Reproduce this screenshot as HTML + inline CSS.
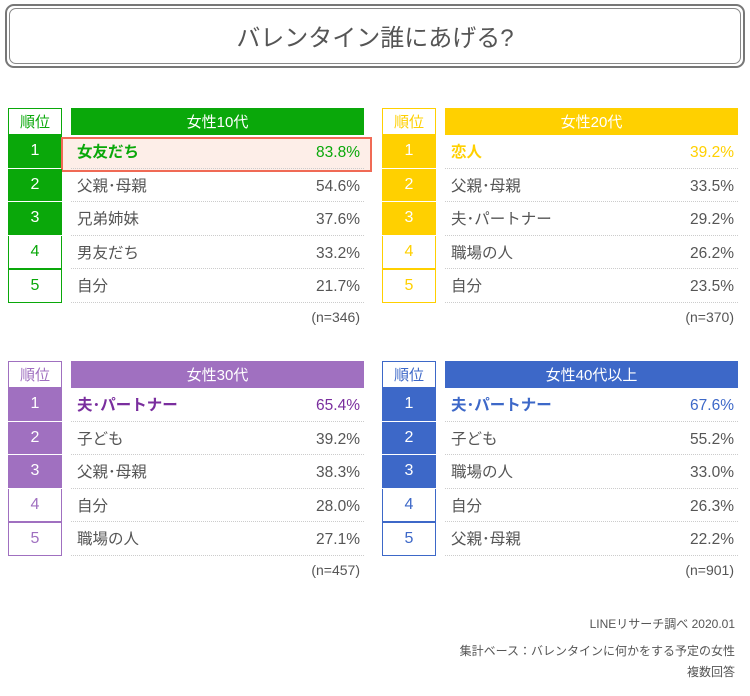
<!DOCTYPE html>
<html><head><meta charset="utf-8"><style>
body{margin:0;width:750px;height:696px;background:#fff;position:relative;font-family:"Liberation Sans","Noto Sans CJK JP",sans-serif;overflow:hidden}
.a{position:absolute;box-sizing:border-box}
.title{left:5px;top:4px;width:740px;height:64px;border:2px solid #777;border-radius:9px}
.title:after{content:"";position:absolute;left:2px;top:2px;right:2px;bottom:2px;border:1.5px solid #888;border-radius:7px}
.tt{left:0;top:18px;width:750px;text-align:center;font-size:24px;color:#555}
.rk{width:54px;height:33.6px;display:flex;align-items:center;justify-content:center;font-size:16px}
.hd{height:27px;display:flex;align-items:center;justify-content:center;color:#fff;font-size:15px}
.row{height:33.6px;line-height:32px;padding:3px 4px 0 6px;font-size:15.5px;color:#555;border-bottom:1.5px dotted #ccc}
.row span{float:left;line-height:30px}
.row b{float:right;font-weight:normal;line-height:30px}
.n{font-size:14px;color:#555;text-align:right}
.ft{right:15px;font-size:12px;color:#555;text-align:right}
</style></head><body>
<div class="a title"></div>
<div class="a tt">バレンタイン誰にあげる?</div>
<div id="c"></div>
<div class="a ft" style="top:615px">LINEリサーチ調べ 2020.01</div>
<div class="a ft" style="top:642px">集計ベース：バレンタインに何かをする予定の女性</div>
<div class="a ft" style="top:663px">複数回答</div>
<script>
const P=[
{x:8,mx:71,y:108,c:"#0aa80a",t:"女性10代",n:"(n=346)",r:[["女友だち","83.8%"],["父親･母親","54.6%"],["兄弟姉妹","37.6%"],["男友だち","33.2%"],["自分","21.7%"]],hl:1},
{x:382,mx:445,y:108,c:"#ffd000",t:"女性20代",n:"(n=370)",r:[["恋人","39.2%"],["父親･母親","33.5%"],["夫･パートナー","29.2%"],["職場の人","26.2%"],["自分","23.5%"]]},
{x:8,mx:71,y:361,c:"#a070c0",t:"女性30代",n:"(n=457)",tc:"#7a2e9e",r:[["夫･パートナー","65.4%"],["子ども","39.2%"],["父親･母親","38.3%"],["自分","28.0%"],["職場の人","27.1%"]]},
{x:382,mx:445,y:361,c:"#3d68c8",t:"女性40代以上",n:"(n=901)",r:[["夫･パートナー","67.6%"],["子ども","55.2%"],["職場の人","33.0%"],["自分","26.3%"],["父親･母親","22.2%"]]}];
let h="";
for(const p of P){
 h+=`<div class="a rk" style="left:${p.x}px;top:${p.y}px;height:27px;border:1.5px solid ${p.c};color:${p.c};font-size:15px">順位</div>`;
 h+=`<div class="a hd" style="left:${p.mx}px;top:${p.y}px;width:293px;background:${p.c}">${p.t}</div>`;
 for(let i=0;i<5;i++){
  const y=p.y+27+i*33.6;
  const f=i<3;
  h+=`<div class="a rk" style="left:${p.x}px;top:${y}px;${f?`background:${p.c};color:#fff;border-bottom:1.5px solid #fff;`:`border:1.5px solid ${p.c};border-top:${i==3?0:1.5}px solid ${p.c};color:${p.c};`}">${i+1}</div>`;
  if(i==0&&p.hl) h+=`<div class="a" style="left:61px;top:${y+2}px;width:311px;height:35px;border:2px solid #f06a55;background:#fdeee8"></div>`;
  const col=i==0?(p.tc||p.c):"#555";
  h+=`<div class="a row" style="left:${p.mx}px;top:${y}px;width:293px;color:${col};"><span${i==0?' style="font-weight:bold"':''}>${p.r[i][0]}</span><b>${p.r[i][1]}</b></div>`;
 }
 h+=`<div class="a n" style="left:${p.mx}px;top:${p.y+27+5*33.6+6}px;width:289px">${p.n}</div>`;
}
document.getElementById("c").innerHTML=h;
</script>
</body></html>
